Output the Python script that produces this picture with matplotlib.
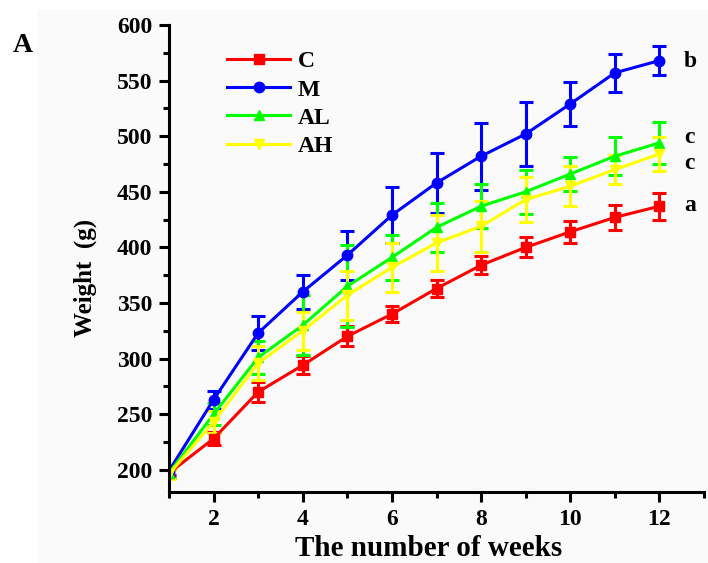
import matplotlib
matplotlib.use("Agg")
import matplotlib.pyplot as plt
from matplotlib.patches import Rectangle
from matplotlib.lines import Line2D
from matplotlib.ticker import MultipleLocator

weeks = [1, 2, 3, 4, 5, 6, 7, 8, 9, 10, 11, 12]
C_mean = [197, 228, 270, 294, 320, 340, 363, 384, 400, 414, 427, 437]
C_err = [4, 6, 9, 8, 9, 7, 8, 8, 9, 10, 11, 12]
M_mean = [199, 263, 323, 360, 393, 429, 458, 482, 502, 529, 557, 568]
M_err = [4, 8, 15, 15, 22, 25, 27, 30, 29, 20, 17, 13]
AL_mean = [197, 250, 301, 330, 365, 391, 418, 437, 450, 466, 482, 494]
AL_err = [4, 10, 15, 27, 37, 20, 22, 20, 20, 15, 17, 19]
AH_mean = [196, 243, 296, 325, 357, 382, 404, 419, 443, 455, 470, 484]
AH_err = [4, 10, 15, 17, 22, 22, 25, 23, 20, 18, 13, 15]
labels = ["C", "M", "AL", "AH"]
sig_letters = ["b", "c", "c", "a"]
sig_y = [567, 499, 475, 438]

serif = ["Liberation Serif", "DejaVu Serif"]
plt.rcParams["font.family"] = serif
plt.rcParams["font.weight"] = "bold"

fig = plt.figure(figsize=(7.08, 5.63), dpi=100)
fig.patches.append(Rectangle((37 / 708, 0), 1, 1 - 10 / 563, transform=fig.transFigure,
                             facecolor="#fafafa", edgecolor="none", zorder=-10))
ax = fig.add_axes([169 / 708, 1 - 492 / 563, (704 - 169) / 708, (492 - 25) / 563])
ax.set_facecolor("none")

series = [
    (C_mean, C_err, "#ff0000", "s"),
    (M_mean, M_err, "#0000ff", "o"),
    (AL_mean, AL_err, "#00ff00", "^"),
    (AH_mean, AH_err, "#ffff00", "v"),
]
handles = []
for (m, e, col, mk), lab in zip(series, labels):
    ax.errorbar(weeks, m, yerr=e, color=col, marker=mk, markersize=7.5,
                linewidth=2.2, elinewidth=2.2, capsize=5, capthick=2.2)
    handles.append(Line2D([], [], color=col, marker=mk, markersize=7.5,
                          linewidth=2.2, label=lab))

ax.set_xlim(1, 13)
ax.set_ylim(180, 600)
ax.xaxis.set_minor_locator(MultipleLocator(1))
ax.yaxis.set_minor_locator(MultipleLocator(25))
ax.set_yticks([200, 250, 300, 350, 400, 450, 500, 550, 600])
ax.set_xticks([2, 4, 6, 8, 10, 12])

for s in ["top", "right"]:
    ax.spines[s].set_visible(False)
for s in ["left", "bottom"]:
    ax.spines[s].set_linewidth(2.2)
ax.tick_params(which="major", direction="out", length=7, width=2.2, labelsize=17, pad=5)
ax.tick_params(which="minor", direction="out", length=4, width=2.2)
for t in ax.get_xticklabels() + ax.get_yticklabels():
    t.set_fontweight("bold")

ax.set_xlabel("The number of weeks", fontsize=21, fontweight="bold")
ax.xaxis.set_label_coords(0.485, -0.093)
ax.set_ylabel("Weight  (g)", fontsize=18, fontweight="bold")
ax.yaxis.set_label_coords(-0.135, 0.458)

ax.legend(handles=handles, loc="upper left", bbox_to_anchor=(0.068, 0.99),
          frameon=False, handlelength=2.7, labelspacing=0.28,
          handletextpad=0.3, prop={"weight": "bold", "size": 17})

for letter, yv in zip(sig_letters, sig_y):
    ax.text(12.55, yv, letter, fontsize=17, fontweight="bold", va="center", ha="left")

fig.text(13 / 708, 1 - 45 / 563, "A", fontsize=20, fontweight="bold", va="center", ha="left")

fig.savefig("out.png", dpi=100)
